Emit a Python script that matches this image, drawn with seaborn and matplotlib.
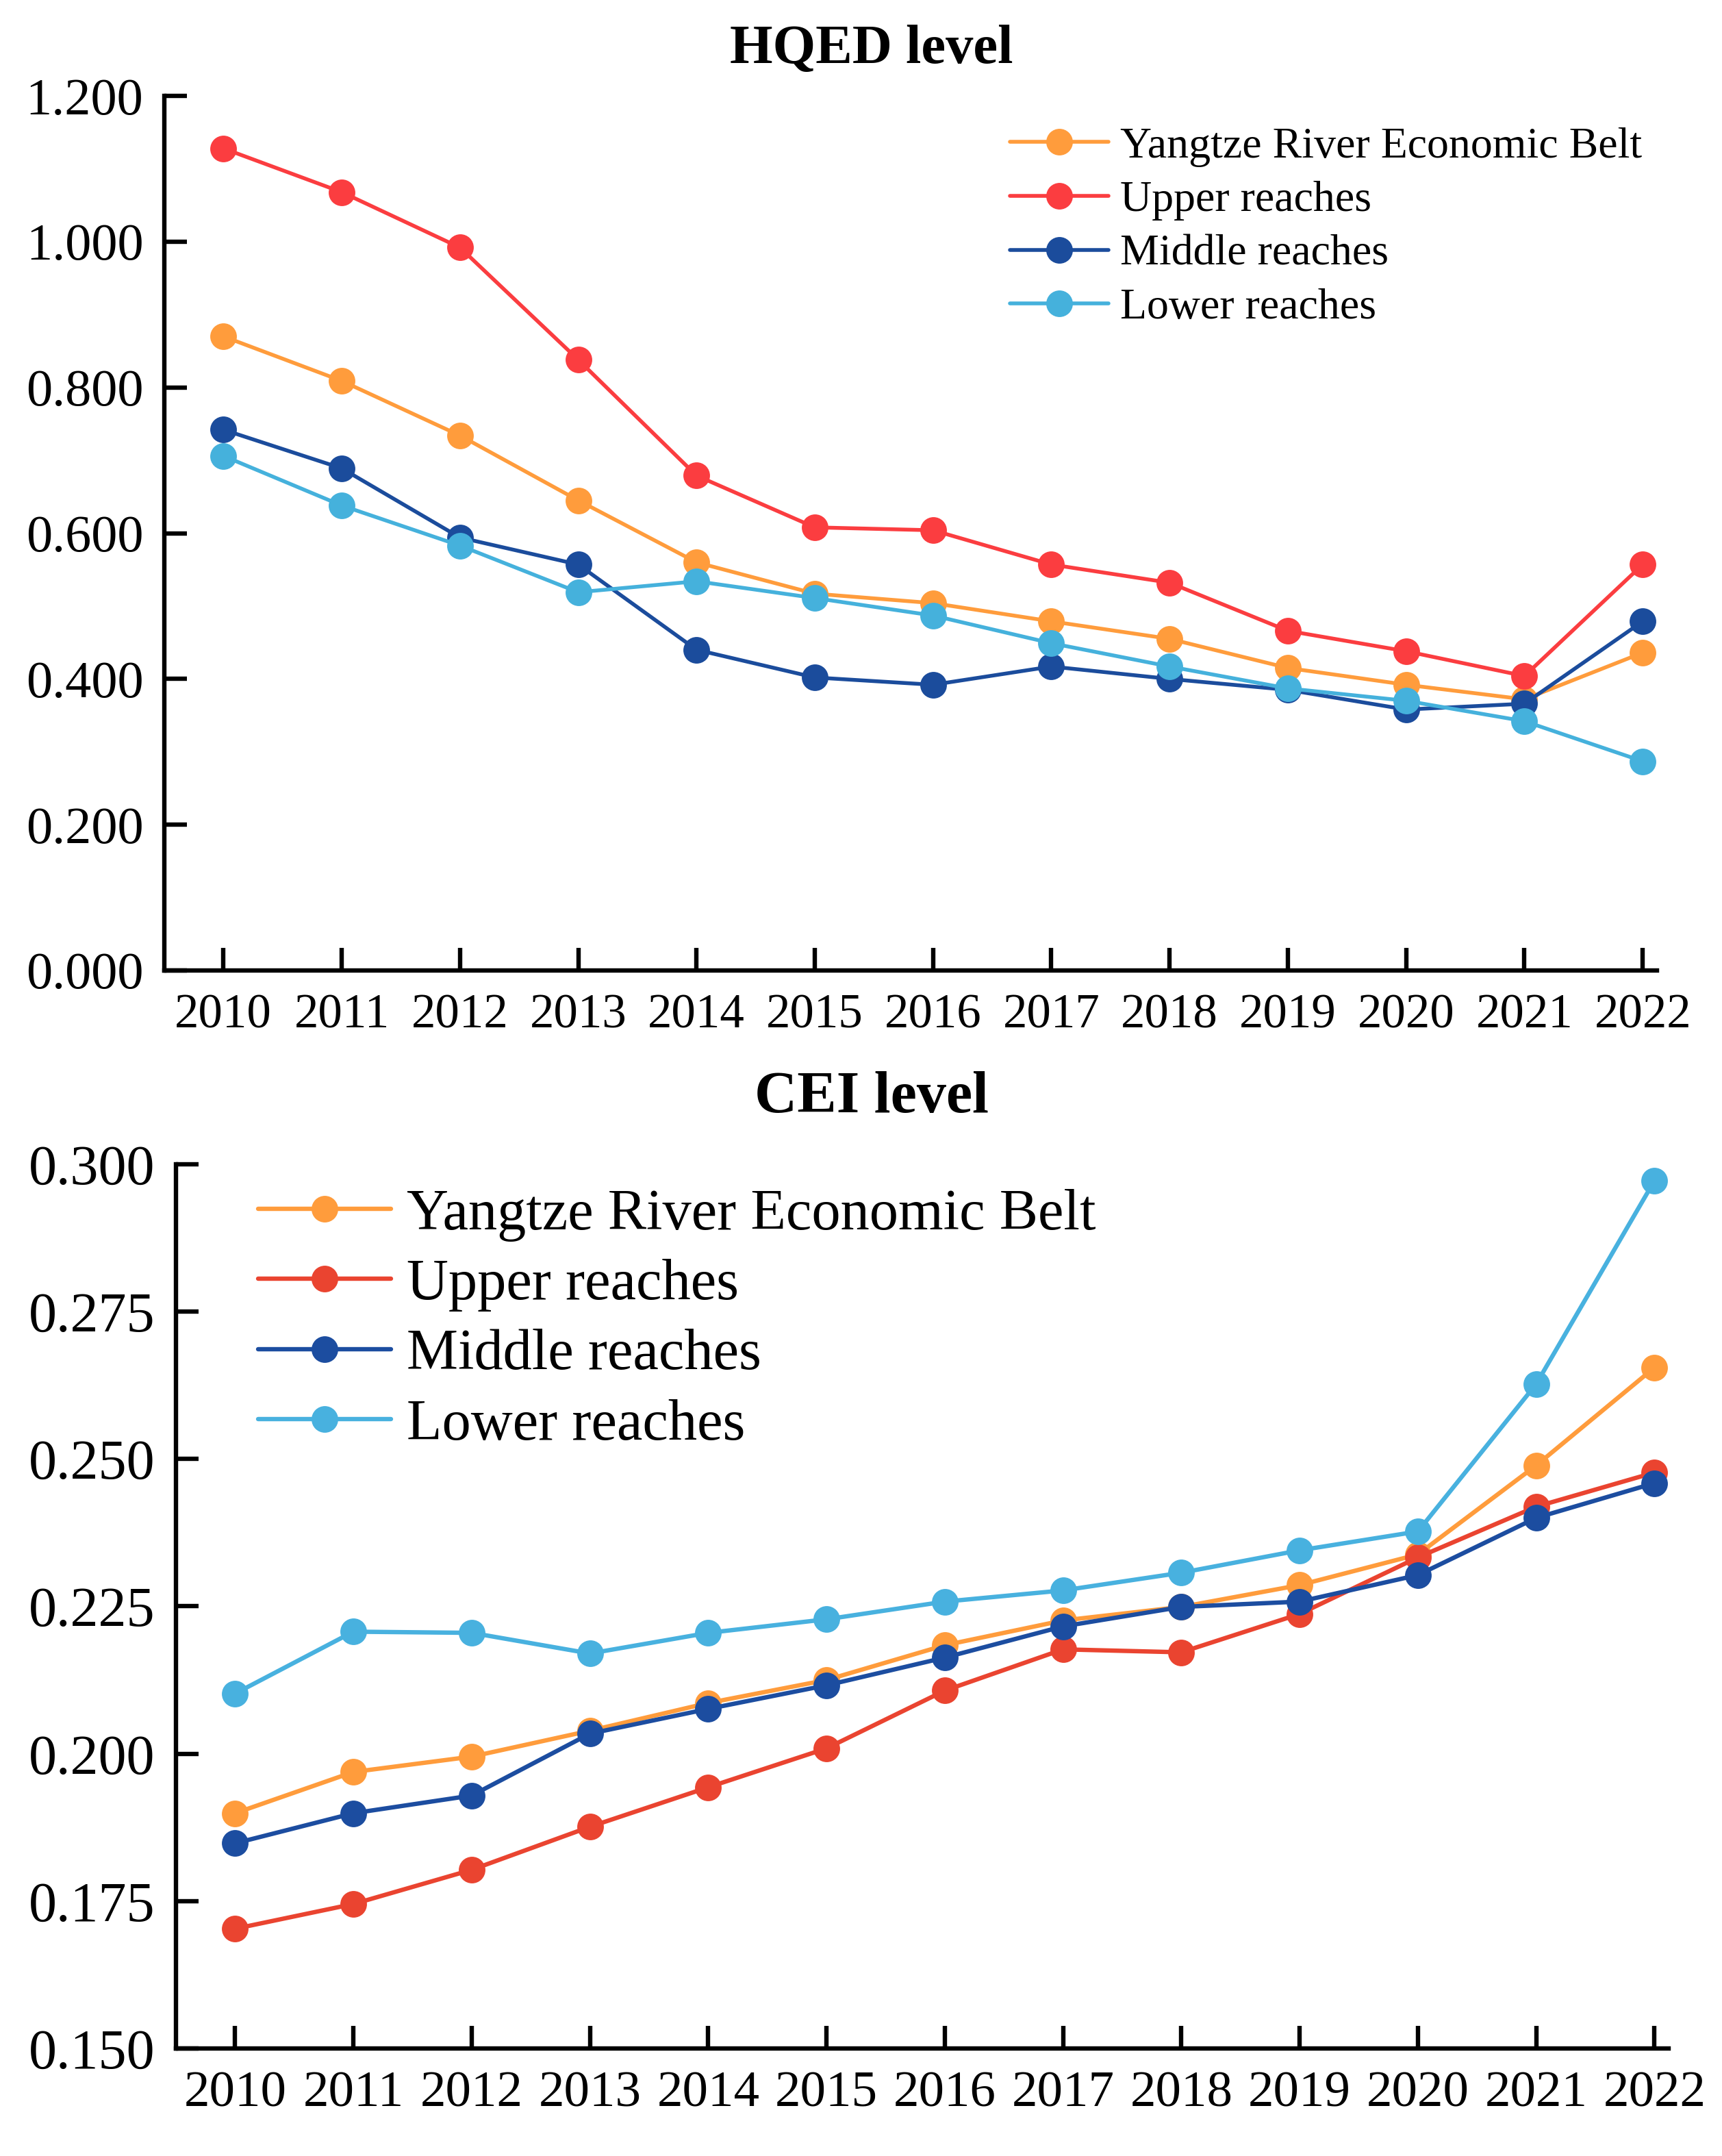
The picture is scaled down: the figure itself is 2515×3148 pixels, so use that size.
import numpy as np
import pandas as pd
import matplotlib
matplotlib.use("Agg")
import matplotlib.pyplot as plt
from matplotlib.lines import Line2D
from matplotlib.ticker import FormatStrFormatter, FixedLocator
import seaborn as sns

years = list(range(2010, 2023))
regions = ["Yangtze River Economic Belt", "Upper reaches", "Middle reaches", "Lower reaches"]

# HQED level
hqed_yreb = [0.870, 0.809, 0.734, 0.645, 0.560, 0.517, 0.504, 0.479, 0.455, 0.415, 0.392, 0.372, 0.436]
hqed_upper = [1.128, 1.068, 0.992, 0.838, 0.679, 0.608, 0.604, 0.557, 0.532, 0.466, 0.438, 0.404, 0.557]
hqed_middle = [0.742, 0.689, 0.594, 0.557, 0.440, 0.402, 0.392, 0.417, 0.400, 0.385, 0.358, 0.366, 0.479]
hqed_lower = [0.706, 0.638, 0.583, 0.519, 0.534, 0.511, 0.487, 0.449, 0.417, 0.387, 0.370, 0.342, 0.287]

# CEI level
cei_yreb = [0.1899, 0.1969, 0.1995, 0.2039, 0.2086, 0.2125, 0.2184, 0.2226, 0.2249, 0.2286, 0.2338, 0.2489, 0.2655]
cei_upper = [0.1703, 0.1745, 0.1803, 0.1876, 0.1943, 0.2009, 0.2107, 0.2177, 0.2172, 0.2237, 0.2333, 0.2419, 0.2477]
cei_middle = [0.1848, 0.1899, 0.1929, 0.2034, 0.2076, 0.2116, 0.2163, 0.2216, 0.2249, 0.2258, 0.2303, 0.2400, 0.2459]
cei_lower = [0.2102, 0.2207, 0.2205, 0.2170, 0.2205, 0.2228, 0.2258, 0.2277, 0.2307, 0.2345, 0.2377, 0.2627, 0.2972]

hqed_ticks = [0.0, 0.2, 0.4, 0.6, 0.8, 1.0, 1.2]
cei_ticks = [0.150, 0.175, 0.200, 0.225, 0.250, 0.275, 0.300]

pal_top = ["#FF9C3C", "#FB3D40", "#1B4C9C", "#45B1DC"]
pal_bot = ["#FF9C3C", "#EA4430", "#1C4DA0", "#48B1DF"]


def long_df(series):
    rows = []
    for name, vals in zip(regions, series):
        for y, v in zip(years, vals):
            rows.append({"year": y, "value": v, "region": name})
    return pd.DataFrame(rows)


sns.set_theme(style="white")
plt.rcParams["font.family"] = ["Liberation Serif", "DejaVu Serif"]
plt.rcParams["text.color"] = "black"
plt.rcParams["axes.labelcolor"] = "black"
plt.rcParams["xtick.color"] = "black"
plt.rcParams["ytick.color"] = "black"

fig = plt.figure(figsize=(12.575, 15.74), dpi=200)
ax1 = fig.add_axes([0.0954, 0.5499, 0.8668, 0.4056])
ax2 = fig.add_axes([0.1022, 0.0499, 0.8668, 0.4101])


def draw(ax, series, pal, ticks, ylim, xtick_fs, ytick_fs, leg_fs, leg_anchor,
         lw, hl, ls):
    df = long_df(series)
    sns.lineplot(data=df, x="year", y="value", hue="region", hue_order=regions,
                 palette=pal, marker="o", markersize=14, markeredgewidth=0,
                 linewidth=lw, legend=False, ax=ax, zorder=3)
    ax.set_xlim(2009.5, 2022.12)
    ax.set_ylim(*ylim)
    ax.xaxis.set_major_locator(FixedLocator(years))
    ax.yaxis.set_major_locator(FixedLocator(ticks))
    ax.yaxis.set_major_formatter(FormatStrFormatter("%.3f"))
    ax.set_xlabel("")
    ax.set_ylabel("")
    for s in ["top", "right"]:
        ax.spines[s].set_visible(False)
    for s in ["left", "bottom"]:
        ax.spines[s].set_color("black")
        ax.spines[s].set_linewidth(2.3)
    ax.tick_params(axis="both", direction="in", length=12, width=2.3,
                   color="black", labelcolor="black", left=True, bottom=True)
    ax.tick_params(axis="y", pad=11, labelsize=ytick_fs)
    ax.tick_params(axis="x", pad=12, labelsize=xtick_fs)
    ax.set_facecolor("white")
    handles = [Line2D([0], [0], color=c, lw=lw, marker="o", markersize=14,
                      markeredgewidth=0) for c in pal]
    fig.legend(handles, regions, loc="upper left", bbox_to_anchor=leg_anchor,
               bbox_transform=fig.transFigure, frameon=False, fontsize=leg_fs,
               handlelength=hl, handletextpad=0.27, labelspacing=ls,
               borderpad=0, borderaxespad=0, labelcolor="black")


draw(ax1, [hqed_yreb, hqed_upper, hqed_middle, hqed_lower], pal_top, hqed_ticks,
     (0.0, 1.2), 25.5, 27.5, 23, (0.5865, 0.9412), 2.0, 2.25, 0.31)
draw(ax2, [cei_yreb, cei_upper, cei_middle, cei_lower], pal_bot, cei_ticks,
     (0.150, 0.300), 27, 29.5, 30.4, (0.150, 0.4487), 2.3, 2.3, 0.30)

fig.text(0.506, 0.9708, "HQED level", ha="center", va="baseline",
         fontsize=29, fontweight="bold", color="black")
fig.text(0.506, 0.484, "CEI level", ha="center", va="baseline",
         fontsize=31, fontweight="bold", color="black")

fig.savefig("out.png", dpi=200, facecolor="white")
